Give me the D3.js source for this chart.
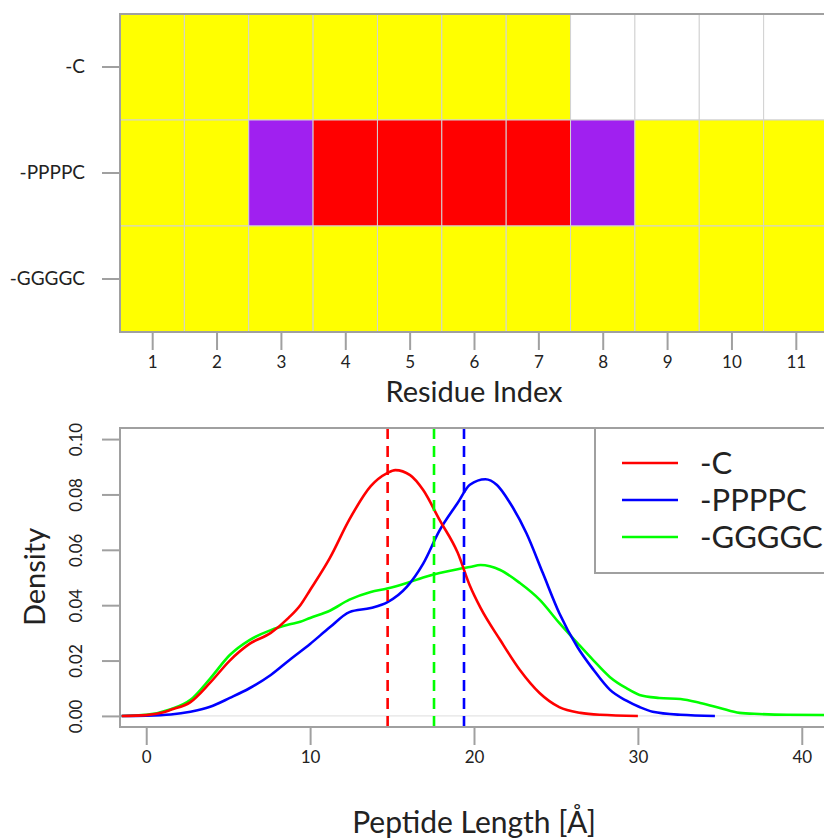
<!DOCTYPE html>
<html>
<head>
<meta charset="utf-8">
<script src="https://cdn.jsdelivr.net/npm/d3@7"></script>
<style>
  body { margin: 0; background: #fff; }
  text { fill: #222; }
  .tick-label { font-family: "Lato", sans-serif; }
  .title { font-family: "Lato", sans-serif; }
</style>
</head>
<body>
<svg id="canvas" width="824" height="840"></svg>
<script>
let residues = [1, 2, 3, 4, 5, 6, 7, 8, 9, 10, 11]
let peptides = ['-C', '-PPPPC', '-GGGGC']

// per residue state: C = coil, T = turn, H = helix, null = no residue
let stateC     = ['C', 'C', 'C', 'C', 'C', 'C', 'C', null, null, null, null]
let statePPPPC = ['C', 'C', 'T', 'H', 'H', 'H', 'H', 'T', 'C', 'C', 'C']
let stateGGGGC = ['C', 'C', 'C', 'C', 'C', 'C', 'C', 'C', 'C', 'C', 'C']

// density of peptide length
let lengthC  = [-1.5, 0, 1, 1.5, 2.7, 3.9, 5.1, 6.3, 7.6, 8.7, 9.4, 10, 11.2, 12.4, 13.7, 14.7, 15.2, 16.1, 16.9, 17.9, 19, 19.75, 20.4, 21.6, 22.8, 24, 25.2, 26.5, 27.7, 30]
let densityC = [0, 0.0003, 0.0012, 0.0022, 0.005, 0.012, 0.02, 0.026, 0.03, 0.0355, 0.04, 0.0455, 0.057, 0.071, 0.083, 0.0877, 0.0888, 0.087, 0.0816, 0.0708, 0.059, 0.047, 0.039, 0.0274, 0.0166, 0.0083, 0.0032, 0.0011, 0.0004, 0]

let lengthPPPPC  = [-1.5, 0, 1.5, 2.7, 3.9, 5.1, 6.3, 7.6, 8.8, 10, 11.2, 12.4, 13.7, 14.7, 15.9, 16.9, 17.9, 19, 19.75, 20.7, 21.4, 22.2, 23.2, 24.2, 25.2, 26.3, 27.3, 28.3, 29.3, 30.1, 30.9, 32.6, 34.7]
let densityPPPPC = [0, 0.0001, 0.0005, 0.0015, 0.0033, 0.0065, 0.01, 0.0148, 0.0205, 0.026, 0.032, 0.0375, 0.039, 0.041, 0.0466, 0.055, 0.067, 0.0769, 0.0835, 0.0855, 0.0834, 0.0769, 0.066, 0.0516, 0.0372, 0.025, 0.0166, 0.0094, 0.0055, 0.0032, 0.0015, 0.0004, 0]

let lengthGGGGC  = [-1.5, 0, 1.5, 2.7, 3.9, 5.1, 6.3, 7.6, 8.7, 9.4, 10, 11.2, 12.4, 13.7, 14.7, 15.9, 16.9, 17.9, 19, 19.75, 20.4, 21.6, 22.8, 24, 25.2, 26.3, 27.3, 28.3, 29.3, 30.1, 31.3, 32.6, 33.8, 35, 36.2, 37.4, 39.1, 41.6, 43]
let densityGGGGC = [0, 0.0004, 0.0024, 0.0058, 0.0135, 0.022, 0.0274, 0.031, 0.033, 0.034, 0.0354, 0.038, 0.042, 0.0448, 0.046, 0.048, 0.05, 0.0516, 0.053, 0.0538, 0.0545, 0.0527, 0.048, 0.042, 0.0336, 0.0264, 0.02, 0.014, 0.01, 0.0076, 0.0065, 0.0061, 0.0047, 0.0029, 0.0011, 0.0007, 0.0004, 0.0003, 0.0003]

let meanLength = [14.73, 19.39, 17.56]
let lengthTicks = [0, 10, 20, 30, 40]
let densityTicks = [0, 0.02, 0.04, 0.06, 0.08, 0.10]

let stateColor = {C: '#ffff00', T: '#a020f0', H: '#ff0000'}
let seriesColor = ['#ff0000', '#0000ff', '#00ff00']
let frameColor = '#a0a0a0'

let canvas = d3.select('#canvas')

// ---------- heatmap ----------
let states = [stateC, statePPPPC, stateGGGGC]
let cells = []
states.forEach((row, i) => {
    row.forEach((s, j) => {
        cells.push({peptide: peptides[i], residue: residues[j], state: s})
    })
})

let hx = d3.scaleLinear().domain([0.5, 11.5]).range([120, 828])
let hy = d3.scaleBand().domain(peptides).range([14, 332])

canvas.selectAll('rect.cell')
      .data(cells)
      .enter()
      .append('rect')
      .attr('class', 'cell')
      .attr('x', (d) => hx(d.residue - 0.5))
      .attr('y', (d) => hy(d.peptide))
      .attr('width', hx(1.5) - hx(0.5))
      .attr('height', hy.bandwidth())
      .attr('fill', (d) => d.state ? stateColor[d.state] : '#ffffff')
      .attr('stroke', '#d2d2d2')
      .attr('stroke-width', 1)

canvas.append('rect')
      .attr('x', 120).attr('y', 14)
      .attr('width', 708).attr('height', 318)
      .attr('fill', 'none')
      .attr('stroke', frameColor)
      .attr('stroke-width', 2)

let hxAxis = canvas.append('g')
      .attr('transform', 'translate(0,332)')
      .call(d3.axisBottom(hx).tickValues(residues).tickSize(18).tickPadding(6))
let hyAxis = canvas.append('g')
      .attr('transform', 'translate(120,0)')
      .call(d3.axisLeft(hy).tickSize(18).tickPadding(17))

hxAxis.selectAll('text').attr('class', 'tick-label').style('font-size', '17px')
hyAxis.selectAll('text').attr('class', 'tick-label').style('font-size', '19px')

canvas.append('text')
      .attr('class', 'title')
      .attr('x', 474).attr('y', 402)
      .attr('text-anchor', 'middle')
      .style('font-size', '29px')
      .text('Residue Index')

// ---------- density ----------
let x = d3.scaleLinear().domain([-1.6, 41.6]).range([120, 828])
let y = d3.scaleLinear().domain([-0.004, 0.104]).range([727, 428])

canvas.append('clipPath')
      .attr('id', 'clip')
      .append('rect')
      .attr('x', 120).attr('y', 428)
      .attr('width', 708).attr('height', 299)

let plot = canvas.append('g').attr('clip-path', 'url(#clip)')

plot.append('line')
    .attr('x1', 120).attr('x2', 828)
    .attr('y1', y(0)).attr('y2', y(0))
    .attr('stroke', '#dddddd')
    .attr('stroke-width', 1)

let series = [
    {name: peptides[0], xs: lengthC, ys: densityC},
    {name: peptides[1], xs: lengthPPPPC, ys: densityPPPPC},
    {name: peptides[2], xs: lengthGGGGC, ys: densityGGGGC}
]

let line = d3.line()
    .x((d) => x(d[0]))
    .y((d) => y(d[1]))
    .curve(d3.curveMonotoneX)

// draw green first, then blue, red on top
;[2, 1, 0].forEach((i) => {
    let s = series[i]
    plot.append('path')
        .datum(s.xs.map((v, k) => [v, s.ys[k]]))
        .attr('d', line)
        .attr('fill', 'none')
        .attr('stroke', seriesColor[i])
        .attr('stroke-width', 2.6)
})

plot.selectAll('line.mean')
    .data(meanLength)
    .enter()
    .append('line')
    .attr('class', 'mean')
    .attr('x1', (d) => x(d)).attr('x2', (d) => x(d))
    .attr('y1', 727).attr('y2', 428)
    .attr('stroke', (d, i) => seriesColor[i])
    .attr('stroke-width', 2.6)
    .attr('stroke-dasharray', '11,7')

canvas.append('rect')
      .attr('x', 120).attr('y', 428)
      .attr('width', 708).attr('height', 299)
      .attr('fill', 'none')
      .attr('stroke', frameColor)
      .attr('stroke-width', 2)

let xAxis = canvas.append('g')
      .attr('transform', 'translate(0,727)')
      .call(d3.axisBottom(x).tickValues(lengthTicks).tickSize(18).tickPadding(6))
let yAxis = canvas.append('g')
      .attr('transform', 'translate(120,0)')
      .call(d3.axisLeft(y).tickValues(densityTicks).tickFormat(d3.format('.2f')).tickSize(18))

xAxis.selectAll('text').attr('class', 'tick-label').style('font-size', '17px')
yAxis.selectAll('text')
     .attr('class', 'tick-label')
     .style('font-size', '17px')
     .attr('text-anchor', 'middle')
     .attr('x', 0).attr('dy', 0)
     .attr('transform', 'translate(-38,0) rotate(-90)')

canvas.selectAll('.domain').remove()
canvas.selectAll('.tick line').attr('stroke', frameColor).attr('stroke-width', 2)

canvas.append('text')
      .attr('class', 'title')
      .attr('transform', 'translate(45,577) rotate(-90)')
      .attr('text-anchor', 'middle')
      .style('font-size', '29px')
      .text('Density')

canvas.append('text')
      .attr('class', 'title')
      .attr('x', 474).attr('y', 833)
      .attr('text-anchor', 'middle')
      .style('font-size', '30px')
      .text('Peptide Length [Å]')

// legend
let legend = canvas.append('g')
legend.append('rect')
      .attr('x', 595).attr('y', 428)
      .attr('width', 240).attr('height', 145)
      .attr('fill', '#ffffff')
      .attr('stroke', frameColor)
      .attr('stroke-width', 2)

peptides.forEach((p, i) => {
    legend.append('line')
          .attr('x1', 622).attr('x2', 678)
          .attr('y1', 463 + i * 37).attr('y2', 463 + i * 37)
          .attr('stroke', seriesColor[i])
          .attr('stroke-width', 2.6)
    legend.append('text')
          .attr('class', 'title')
          .attr('x', 700).attr('y', 463 + i * 37)
          .attr('dy', '0.36em')
          .style('font-size', '31px')
          .text(p)
})
</script>
</body>
</html>
